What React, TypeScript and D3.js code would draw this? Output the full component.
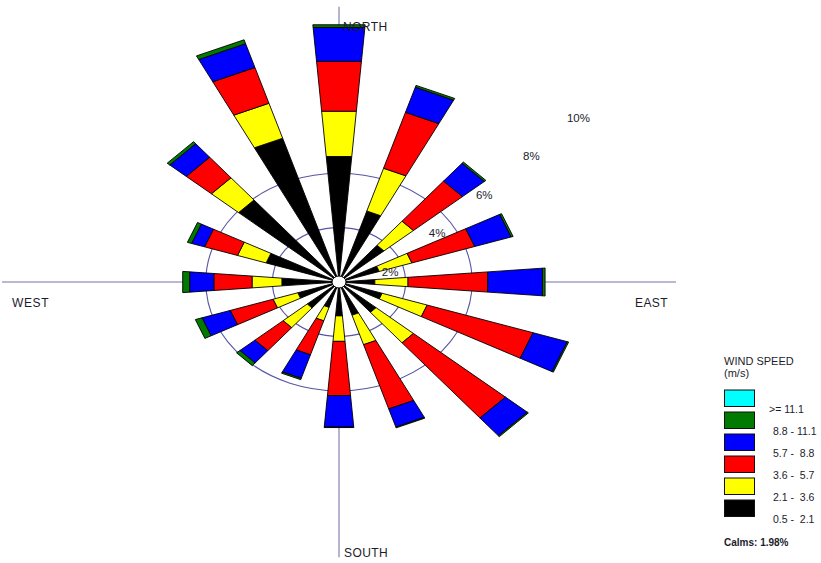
import React from "react";
import * as d3 from "d3";

// ---- Data (percent frequency per direction, per wind-speed class) ----
const DIRECTIONS = ["N", "NNE", "NE", "ENE", "E", "ESE", "SE", "SSE", "S", "SSW", "SW", "WSW", "W", "WNW", "NW", "NNW"];
const speed05_21 = [4.63, 2.74, 1.77, 1.27, 1.08, 1.36, 1.46, 1.28, 1.25, 0.98, 1.25, 1.30, 1.72, 2.30, 3.95, 5.55];
const speed21_36 = [1.67, 1.65, 1.16, 1.03, 1.00, 1.42, 1.47, 1.14, 0.94, 0.52, 0.95, 0.78, 0.90, 0.90, 1.07, 1.35];
const speed36_57 = [1.84, 2.16, 1.93, 1.98, 2.40, 3.34, 3.62, 2.48, 2.00, 1.31, 1.11, 1.35, 1.15, 1.04, 0.99, 1.38];
const speed57_88 = [1.25, 0.97, 0.86, 1.15, 1.65, 1.08, 0.86, 0.70, 1.16, 0.91, 0.59, 0.89, 0.73, 0.41, 0.65, 0.92];
const speed88_111 = [0.10, 0.07, 0.06, 0.06, 0.08, 0.04, 0.04, 0.03, 0.02, 0.05, 0.13, 0.21, 0.21, 0.13, 0.10, 0.15];
const speed111 = [0, 0, 0, 0, 0, 0, 0, 0, 0, 0, 0, 0, 0, 0, 0, 0];

const SPEED_KEYS = ["s05", "s21", "s36", "s57", "s88", "s111"];
const SPEED_SERIES = [speed05_21, speed21_36, speed36_57, speed57_88, speed88_111, speed111];
const SPEED_COLORS = ["#000000", "#ffff00", "#ff0000", "#0000ff", "#007a00", "#00ffff"];
const LEGEND_LABELS = ["0.5 -  2.1", "2.1 -  3.6", "3.6 -  5.7", "5.7 -  8.8", "8.8 - 11.1", ">= 11.1"];
const RING_VALUES = [2, 4];
const RING_LABELS = [2, 4, 6, 8, 10];
const CALMS = 1.98;

const W = 821;
const H = 563;
const cx = 339;
const cy = 282;
const HALF_WIDTH_DEG = 4.75;
const AXIS_MAX = 10.12;

export default function App() {
  const rx = d3.scaleLinear().domain([0, 10]).range([0, 333]);
  const ry = d3.scaleLinear().domain([0, 10]).range([0, 272]);
  const angle = d3.scaleLinear().domain([0, DIRECTIONS.length]).range([0, 360]);

  const pt = (r: number, deg: number): [number, number] => {
    const a = (deg * Math.PI) / 180;
    return [cx + rx(r) * Math.sin(a), cy - ry(r) * Math.cos(a)];
  };

  const rows = DIRECTIONS.map((d, i) => {
    const row: any = { dir: d };
    SPEED_KEYS.forEach((k, j) => (row[k] = SPEED_SERIES[j][i]));
    return row;
  });
  const stacked = d3.stack().keys(SPEED_KEYS)(rows as any);
  const line = d3.line().curve(d3.curveLinearClosed);

  const segments: { d: string; fill: string; key: string }[] = [];
  DIRECTIONS.forEach((dir, i) => {
    const a = angle(i);
    stacked.forEach((layer, j) => {
      const [r0, r1] = layer[i];
      if (r1 - r0 <= 0) return;
      const p = [
        pt(r0, a - HALF_WIDTH_DEG),
        pt(r1, a - HALF_WIDTH_DEG),
        pt(r1, a + HALF_WIDTH_DEG),
        pt(r0, a + HALF_WIDTH_DEG),
      ];
      segments.push({ d: line(p as any) || "", fill: SPEED_COLORS[j], key: dir + j });
    });
  });

  const font = "'Liberation Sans', Arial, sans-serif";
  const textColor = "#1c1c2c";

  return (
    <div style={{ position: "fixed", left: 0, top: 0, width: W, height: H, background: "#fff" }}>
      <svg width={W} height={H} viewBox={`0 0 ${W} ${H}`} style={{ display: "block" }}>
        <rect x={0} y={0} width={W} height={H} fill="#fff" />
        {/* axes */}
        {[0, 90, 180, 270].map((deg) => {
          const [x2, y2] = pt(AXIS_MAX, deg);
          return <line key={deg} x1={cx} y1={cy} x2={x2} y2={y2} stroke="#a2a2c4" strokeWidth={1.6} />;
        })}
        {/* rings */}
        {RING_VALUES.map((v) => (
          <ellipse key={v} cx={cx} cy={cy} rx={rx(v)} ry={ry(v)} fill="none" stroke="#5656a4" strokeWidth={1.1} />
        ))}
        {/* bars */}
        {segments.map((s) => (
          <path key={s.key} d={s.d} fill={s.fill} stroke="#000" strokeWidth={0.9} strokeLinejoin="round" />
        ))}
        {/* calm circle */}
        <ellipse cx={cx} cy={cy} rx={7} ry={6} fill="#fff" stroke="#000" strokeWidth={1} />
        {/* ring labels */}
        {RING_LABELS.map((v) => {
          const [x, y] = pt(v, 45);
          return (
            <text key={v} x={x + 4} y={y + 28} textAnchor="middle" dominantBaseline="central"
              fontFamily={font} fontSize={11.5} fill={textColor}>
              {v}%
            </text>
          );
        })}
        {/* compass labels */}
        <text x={343} y={27} dominantBaseline="central" fontFamily={font} fontSize={12} letterSpacing={0.4} fill={textColor}>NORTH</text>
        <text x={344} y={553} dominantBaseline="central" fontFamily={font} fontSize={12} letterSpacing={0.4} fill={textColor}>SOUTH</text>
        <text x={12} y={303} dominantBaseline="central" fontFamily={font} fontSize={12} letterSpacing={0.6} fill={textColor}>WEST</text>
        <text x={635} y={303} dominantBaseline="central" fontFamily={font} fontSize={12} letterSpacing={0.4} fill={textColor}>EAST</text>
        {/* legend */}
        <text x={724} y={361} dominantBaseline="central" fontFamily={font} fontSize={11} fill={textColor}>WIND SPEED</text>
        <text x={724} y={373} dominantBaseline="central" fontFamily={font} fontSize={11} fill={textColor}>(m/s)</text>
        {SPEED_COLORS.slice().reverse().map((c, i) => {
          const label = LEGEND_LABELS[LEGEND_LABELS.length - 1 - i];
          const top = 390 + i * 22;
          return (
            <g key={c}>
              <rect x={724.5} y={top} width={30} height={16.5} fill={c} stroke="#111" strokeWidth={1} />
              <text x={i === 0 ? 769 : 773} y={top + 18.5} dominantBaseline="central" fontFamily={font}
                fontSize={10.5} fill={textColor} style={{ whiteSpace: "pre" }}>
                {label}
              </text>
            </g>
          );
        })}
        <text x={724} y={542} dominantBaseline="central" fontFamily={font} fontSize={10} fontWeight="bold" fill={textColor}>
          Calms: {CALMS.toFixed(2)}%
        </text>
      </svg>
    </div>
  );
}
